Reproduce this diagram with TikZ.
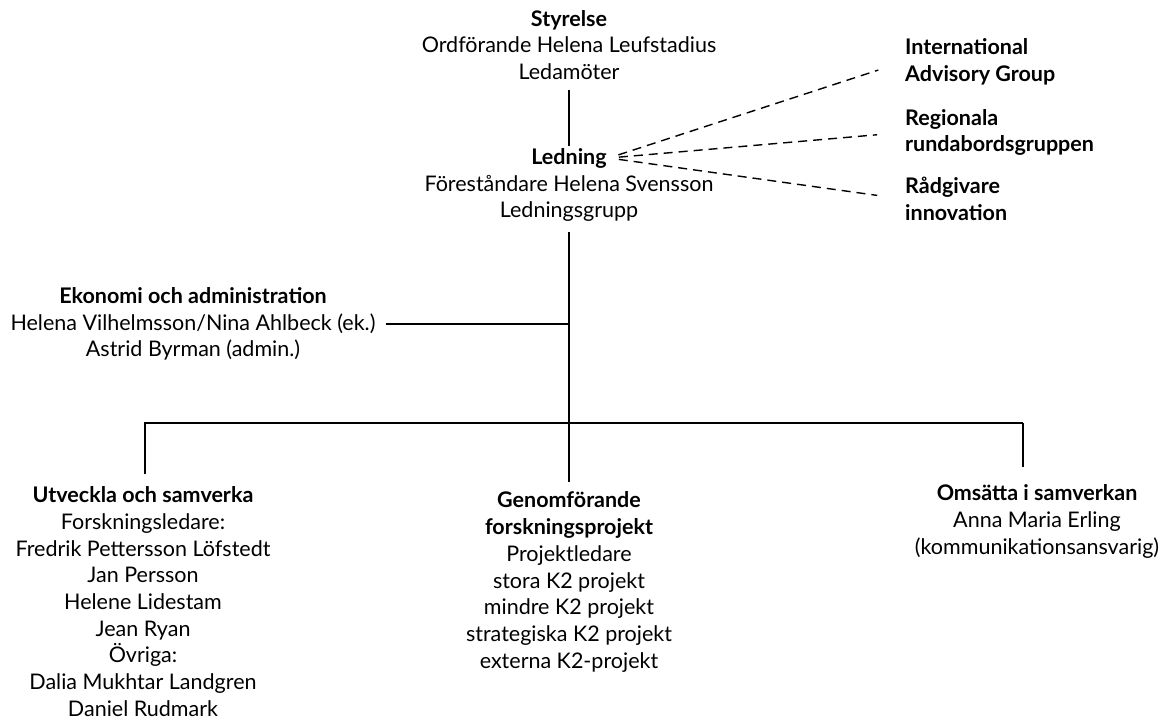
\documentclass[tikz,border=0pt]{standalone}
\usepackage{fontspec}
\setmainfont{Lato}
\usetikzlibrary{positioning}
\tikzset{
  unit/.style={align=center, font=\fontsize{21.5}{26.7}\selectfont, inner sep=2pt},
  head/.style={font=\fontsize{21.5}{26.7}\selectfont\bfseries, inner sep=2pt},
  side/.style={align=left, anchor=west, font=\fontsize{21.5}{26.7}\selectfont\bfseries, inner sep=2pt},
  link/.style={line width=1.4pt},
  dlink/.style={line width=1.4pt, dash pattern=on 9pt off 6pt, shorten >=26pt, shorten <=10pt},
}
\begin{document}
\begin{tikzpicture}[x=1pt,y=1pt]
        \useasboundingbox (0,0) rectangle (1165,-720);

        % styrelse och ledning
        \node[unit] (styrelse) at (569,-45) {\textbf{Styrelse}\\Ordförande Helena Leufstadius\\Ledamöter};
        \node[head] (ledning) at (569,-158) {Ledning};
        \node[unit] (ledtxt) at (569,-198.5) {Föreståndare Helena Svensson\\Ledningsgrupp};

        % rådgivande grupper
        \node[side] (iag) at (903,-62) {International\\Advisory Group};
        \node[side] (rund) at (903,-132.5) {Regionala\\rundabordsgruppen};
        \node[side] (radg) at (903,-199) {Rådgivare\\innovation};

        % stöd och verksamhet
        \node[unit] (ekonomi) at (193,-324) {\textbf{Ekonomi och administration}\\Helena Vilhelmsson/Nina Ahlbeck (ek.)\\Astrid Byrman (admin.)};
        \node[unit] (utv) at (143,-601.5) {\textbf{Utveckla och samverka}\\Forskningsledare:\\Fredrik Pettersson Löfstedt\\Jan Persson\\Helene Lidestam\\Jean Ryan\\Övriga:\\Dalia Mukhtar Landgren\\Daniel Rudmark};
        \node[unit] (genom) at (569,-582) {\textbf{Genomförande}\\\textbf{forskningsprojekt}\\Projektledare\\stora K2 projekt\\mindre K2 projekt\\strategiska K2 projekt\\externa K2-projekt};
        \node[unit] (omsatta) at (1037,-521.5) {\textbf{Omsätta i samverkan}\\Anna Maria Erling\\(kommunikationsansvarig)};

        % kopplingspunkter
        \coordinate (ekj) at (570,-324);
        \coordinate (bl) at (145,-423);
        \coordinate (br) at (1023,-423);

        % linjer
        \draw[link, shorten <=8pt] (styrelse.south) -- (ledning.north);
        \draw[link, shorten <=8pt, shorten >=8pt] (ledtxt.south) -- (genom.north);
        \draw[link, shorten <=8pt] (ekonomi.east |- ekj) -- (ekj);
        \draw[link, shorten <=10pt] (utv.north -| bl) -- (bl) -- (br);
        \draw[link, shorten >=16pt] (br) -- (omsatta.north -| br);
        \draw[dlink] (ledning.east) -- (iag.west);
        \draw[dlink] (ledning.east) -- (rund.west);
        \draw[dlink] (ledning.east) -- (radg.west);
\end{tikzpicture}
\end{document}
